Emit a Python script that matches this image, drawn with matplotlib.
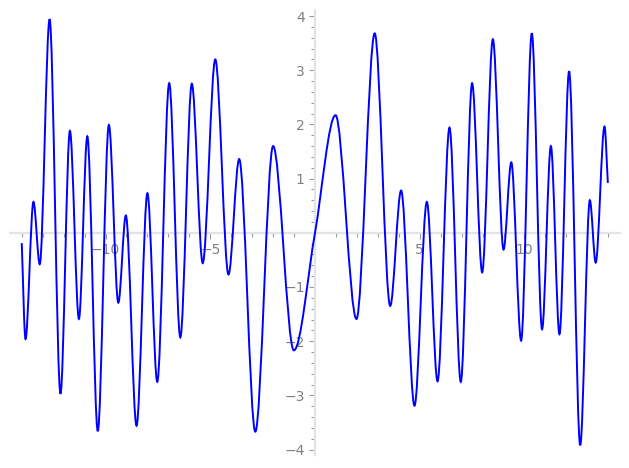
import numpy as np
import matplotlib
matplotlib.use('Agg')
import matplotlib.pyplot as plt
from matplotlib.path import Path
from matplotlib.patches import PathPatch
from matplotlib.ticker import FixedLocator, MultipleLocator

# points (start, peaks/troughs, zero crossing, end)
xs = [-14.0, -13.82, -13.44, -13.14, -12.67, -12.15, -11.70, -11.27, -10.87,
      -10.37, -9.84, -9.39, -9.03, -8.52, -8.00, -7.53, -6.96, -6.43, -5.88,
      -5.36, -4.76, -4.13, -3.62, -2.85, -2.00, -1.01, 0.0, 0.98, 1.98, 2.85,
      3.59, 4.11, 4.75, 5.34, 5.85, 6.42, 6.96, 7.50, 7.98, 8.49, 9.00, 9.37,
      9.84, 10.35, 10.84, 11.26, 11.67, 12.13, 12.66, 13.12, 13.40, 13.82, 13.98]
ys = [-0.19, -1.96, 0.57, -0.58, 3.94, -2.97, 1.88, -1.59, 1.78,
      -3.66, 1.99, -1.29, 0.32, -3.56, 0.73, -2.75, 2.76, -1.93, 2.75,
      -0.56, 3.20, -0.77, 1.36, -3.67, 1.60, -2.17, 0.0, 2.17, -1.59, 3.68,
      -1.35, 0.78, -3.19, 0.57, -2.74, 1.94, -2.75, 2.76, -0.73, 3.57, -0.31, 1.30,
      -1.99, 3.68, -1.78, 1.60, -1.87, 2.98, -3.92, 0.60, -0.55, 1.96, 0.92]

x_major = [-10, -5, 5, 10]
y_major = [-4, -3, -2, -1, 1, 2, 3, 4]

# tangent: flat at peaks/troughs, chord slope elsewhere
n = len(xs)
m = []
for i in range(n):
    if i == 0:
        m.append((ys[1] - ys[0]) / (xs[1] - xs[0]))
    elif i == n - 1:
        m.append((ys[-1] - ys[-2]) / (xs[-1] - xs[-2]))
    elif (ys[i] - ys[i-1]) * (ys[i+1] - ys[i]) < 0:
        m.append(0.0)
    else:
        m.append((ys[i+1] - ys[i-1]) / (xs[i+1] - xs[i-1]))

verts = [(xs[0], ys[0])]
codes = [Path.MOVETO]
for i in range(n - 1):
    d = (xs[i+1] - xs[i]) / 3
    verts += [(xs[i] + d, ys[i] + m[i]*d),
              (xs[i+1] - d, ys[i+1] - m[i+1]*d),
              (xs[i+1], ys[i+1])]
    codes += [Path.CURVE4] * 3

fig = plt.figure(figsize=(6.29, 4.68), dpi=100)
ax = fig.add_axes([0.0159, 0.0278, 0.9698, 0.9519])
ax.add_patch(PathPatch(Path(verts, codes), fill=False, edgecolor='blue',
                       lw=1.4, zorder=3))

ax.set_xlim(-14.56, 14.56)
ax.set_ylim(-4.1, 4.12)

for s in ['top', 'right']:
    ax.spines[s].set_visible(False)
for s in ['left', 'bottom']:
    ax.spines[s].set_position(('data', 0))
    ax.spines[s].set_color('#e3e3e3')
    ax.spines[s].set_linewidth(1.6)

ax.xaxis.set_major_locator(FixedLocator(x_major))
ax.xaxis.set_minor_locator(MultipleLocator(1))
ax.yaxis.set_major_locator(FixedLocator(y_major))
ax.yaxis.set_minor_locator(MultipleLocator(0.2))
ax.tick_params(which='both', colors='#999999', labelcolor='#808080',
               labelsize=10, width=0.8)
ax.tick_params(which='major', length=4)
ax.tick_params(which='minor', length=3)

fig.savefig('out.png', dpi=100)
